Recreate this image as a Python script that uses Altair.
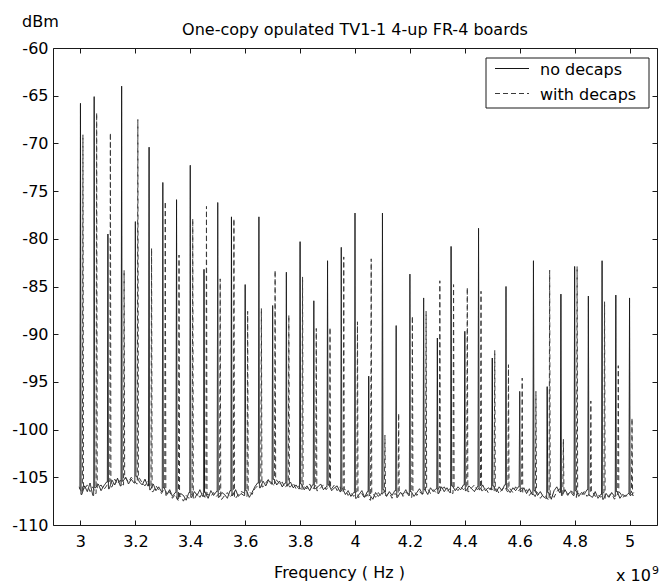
import altair as alt
import numpy as np
import pandas as pd

# ---------------- data ----------------
harmonic_ghz = [3.00, 3.05, 3.10, 3.15, 3.20, 3.25, 3.30, 3.35, 3.40, 3.45,
                3.50, 3.55, 3.60, 3.65, 3.70, 3.75, 3.80, 3.85, 3.90, 3.95,
                4.00, 4.05, 4.10, 4.15, 4.20, 4.25, 4.30, 4.35, 4.40, 4.45,
                4.50, 4.55, 4.60, 4.65, 4.70, 4.75, 4.80, 4.85, 4.90, 4.95,
                5.00]
with_decaps_ghz = [3.009, 3.059, 3.109, 3.159, 3.209, 3.259, 3.309, 3.359, 3.409, 3.459,
                   3.509, 3.559, 3.609, 3.659, 3.709, 3.759, 3.809, 3.859, 3.909, 3.959,
                   4.009, 4.059, 4.109, 4.159, 4.209, 4.259, 4.309, 4.359, 4.409, 4.459,
                   4.509, 4.559, 4.609, 4.659, 4.709, 4.759, 4.809, 4.859, 4.909, 4.959,
                   5.009]
no_decaps_peak = [-65.8, -65.1, -79.5, -64.0, -78.2, -70.4, -74.1, -75.9, -72.3, -83.2,
                  -76.2, -77.7, -84.8, -77.7, -87.0, -83.5, -80.3, -86.5, -82.3, -80.9,
                  -77.3, -94.4, -77.3, -89.1, -83.7, -86.2, -90.4, -80.8, -89.7, -78.9,
                  -92.5, -85.0, -96.0, -82.3, -95.5, -85.8, -82.9, -86.0, -82.3, -85.9,
                  -86.2]
with_decaps_peak = [-69.1, -66.8, -68.9, -83.3, -67.5, -81.0, -76.1, -81.7, -77.9, -76.6,
                    -84.2, -77.9, -87.6, -87.3, -83.3, -88.0, -84.0, -89.4, -89.3, -81.9,
                    -88.7, -82.1, -100.6, -98.3, -88.1, -87.6, -84.4, -84.8, -85.1, -85.5,
                    -91.7, -93.2, -94.6, -96.0, -83.3, -101.0, -82.9, -97.0, -86.6, -93.3,
                    -98.8]

# noise floor, sampled every 10 MHz starting at 2.995 GHz
floor_start_ghz = 2.995
floor_step_ghz = 0.01
no_decaps_floor = [
    -106.2, -106.8, -105.9, -106.5, -105.6, -106.9, -106.1, -105.7, -106.4, -105.9,
    -105.5, -106.2, -105.3, -105.8, -105.1, -105.9, -105.4, -105.0, -105.7, -105.2,
    -105.6, -104.9, -105.5, -105.8, -105.2, -105.9, -106.3, -105.7, -106.4, -106.0,
    -106.5, -106.1, -106.8, -106.3, -107.0, -106.6, -107.3, -106.7, -106.9, -107.4,
    -106.6, -107.1, -106.5, -106.9, -106.3, -107.0, -106.6, -107.2, -106.4, -106.9,
    -106.5, -107.1, -106.6, -106.8, -107.2, -106.4, -106.9, -106.3, -107.0, -106.7,
    -106.9, -106.4, -107.1, -106.6, -106.0, -105.6, -106.1, -105.4, -105.9, -105.3,
    -105.7, -105.2, -105.8, -105.4, -106.0, -105.6, -105.9, -105.5, -106.1, -105.8,
    -106.2, -105.7, -106.3, -105.9, -106.4, -105.8, -106.2, -106.0, -105.7, -106.3,
    -106.0, -105.8, -106.4, -106.1, -105.9, -106.5, -106.2, -106.8, -106.4, -107.0,
    -106.6, -107.2, -106.8, -106.4, -107.1, -106.5, -106.9, -107.3, -106.6, -107.0,
    -106.7, -106.3, -107.0, -106.5, -106.9, -106.4, -107.1, -106.6, -106.8, -106.3,
    -106.9, -106.5, -107.0, -106.6, -106.2, -106.7, -106.3, -106.8, -106.1, -106.5,
    -106.2, -106.7, -106.0, -106.5, -106.1, -106.6, -105.9, -106.4, -106.0, -106.3,
    -105.8, -106.4, -105.9, -106.2, -106.5, -106.0, -106.3, -105.8, -106.4, -106.1,
    -106.3, -105.9, -106.5, -106.0, -106.4, -105.8, -106.2, -106.6, -106.1, -106.4,
    -106.0, -106.5, -106.1, -106.7, -106.2, -106.8, -106.4, -106.9, -106.5, -107.0,
    -107.2, -106.6, -107.3, -106.4, -106.0, -106.6, -106.9, -106.3, -106.8, -106.5,
    -106.9, -106.4, -107.0, -106.6, -106.8, -106.3, -106.9, -107.1, -106.5, -107.2,
    -106.8, -107.3, -106.7, -107.1, -106.6, -107.0, -106.5, -107.2, -106.8, -107.0,
    -106.7, -106.9, -106.6]
with_decaps_floor = [
    -106.0, -106.6, -106.2, -105.8, -106.5, -106.0, -106.7, -106.1, -105.8, -106.3,
    -105.9, -105.4, -106.0, -105.2, -105.7, -105.3, -105.8, -105.1, -105.5, -105.0,
    -105.3, -105.7, -105.1, -105.6, -105.9, -105.4, -106.0, -106.5, -105.9, -106.3,
    -106.7, -106.2, -106.9, -106.5, -107.2, -106.8, -107.4, -107.0, -107.5, -106.9,
    -107.2, -106.8, -107.3, -106.7, -107.1, -106.6, -107.2, -106.8, -107.0, -106.6,
    -107.0, -106.7, -107.3, -106.9, -106.6, -107.1, -106.7, -107.2, -106.8, -106.5,
    -106.6, -107.0, -106.5, -106.8, -106.2, -105.9, -105.5, -106.0, -105.6, -105.2,
    -105.5, -105.9, -105.3, -105.7, -105.5, -106.1, -105.7, -106.0, -105.6, -106.2,
    -105.9, -106.4, -106.0, -106.2, -105.7, -106.3, -105.9, -106.4, -106.1, -105.8,
    -106.3, -105.9, -106.2, -105.8, -106.4, -106.0, -106.6, -106.3, -106.9, -106.6,
    -107.0, -106.5, -107.1, -106.7, -107.2, -106.8, -107.4, -106.7, -107.1, -106.6,
    -107.0, -106.5, -106.9, -106.6, -107.2, -106.7, -106.9, -106.4, -107.0, -106.6,
    -106.7, -107.1, -106.4, -106.9, -106.5, -106.8, -106.4, -106.2, -106.7, -106.3,
    -106.6, -106.1, -106.4, -106.0, -106.5, -106.2, -106.7, -106.1, -106.4, -106.0,
    -106.3, -106.0, -106.5, -106.1, -105.8, -106.3, -106.0, -106.4, -106.1, -106.6,
    -106.1, -106.5, -106.2, -106.7, -106.3, -106.0, -106.5, -106.2, -106.6, -106.0,
    -106.4, -106.2, -106.6, -106.3, -106.9, -106.5, -107.0, -106.6, -107.2, -106.8,
    -107.0, -107.4, -106.8, -107.1, -106.5, -106.2, -106.7, -106.5, -106.9, -106.4,
    -106.6, -107.1, -106.7, -106.9, -106.5, -107.0, -106.7, -106.5, -107.0, -106.8,
    -107.1, -106.6, -107.2, -106.9, -106.7, -107.3, -106.8, -106.6, -107.1, -106.9,
    -107.0, -106.6, -106.9]

series_names = ["no decaps", "with decaps"]
x_ticks = [3.0, 3.2, 3.4, 3.6, 3.8, 4.0, 4.2, 4.4, 4.6, 4.8, 5.0]
y_ticks = [-110, -105, -100, -95, -90, -85, -80, -75, -70, -65, -60]
title_text = "One-copy opulated TV1-1 4-up FR-4 boards"
x_title = "Frequency ( Hz )"
y_unit = "dBm"


def trace(name, spike_f, spike_v, floor_v):
    grid = [round(floor_start_ghz + floor_step_ghz * i, 4) for i in range(len(floor_v))]
    pts = list(zip(grid, floor_v))
    for f, v in zip(spike_f, spike_v):
        i = int(np.floor((f - floor_start_ghz) / floor_step_ghz + 1e-9))
        pts += [(f - 0.002, floor_v[i]), (f, v), (f + 0.002, floor_v[i + 1])]
    pts.sort(key=lambda p: p[0])
    return pd.DataFrame({"f": [p[0] for p in pts], "v": [p[1] for p in pts],
                         "idx": list(range(len(pts))), "series": name})


df = pd.concat([
    trace(series_names[0], harmonic_ghz, no_decaps_peak, no_decaps_floor),
    trace(series_names[1], with_decaps_ghz, with_decaps_peak, with_decaps_floor),
], ignore_index=True)

FONT = "DejaVu Sans"
INK = "#1a1a1a"

xs = alt.Scale(domain=[2.9, 5.1], nice=False, zero=False)
ys = alt.Scale(domain=[-110, -60], nice=False, zero=False)

common = dict(tickSize=5, offset=-5, domain=False, grid=False, tickColor=INK, tickWidth=1,
              labelFont=FONT, labelFontSize=16, labelColor="black")

bottom_axis = alt.Axis(orient="bottom", values=x_ticks, labelExpr="'' + datum.value",
                       labelPadding=8,
                       title=x_title, titleFont=FONT, titleFontSize=16,
                       titleFontWeight="normal", titleColor="black",
                       titleBaseline="alphabetic", titleY=57, titleX=286,
                       titleAnchor="start", titleAlign="center", **common)
left_axis = alt.Axis(orient="left", values=y_ticks, labelExpr="'' + datum.value",
                     labelPadding=5, title=None, **common)
top_axis = alt.Axis(orient="top", values=x_ticks, labels=False, title=None, **common)
right_axis = alt.Axis(orient="right", values=y_ticks, labels=False, title=None, **common)

lines = alt.Chart(df).mark_line(strokeWidth=1).encode(
    x=alt.X("f:Q", scale=xs, axis=bottom_axis),
    y=alt.Y("v:Q", scale=ys, axis=left_axis),
    strokeDash=alt.StrokeDash("series:N",
                              scale=alt.Scale(domain=series_names, range=[[1, 0], [5, 3]]),
                              legend=None),
    color=alt.Color("series:N",
                    scale=alt.Scale(domain=series_names, range=["#151515", "#3a3a3a"]),
                    legend=None),
    order="idx:Q",
)

mirror = alt.Chart(df.iloc[:2]).mark_point(opacity=0).encode(
    x=alt.X("f:Q", scale=xs, axis=top_axis),
    y=alt.Y("v:Q", scale=ys, axis=right_axis),
)

one = pd.DataFrame({"k": [0]})


def label(text, x, y, size=16, align="left"):
    return alt.Chart(one).mark_text(align=align, baseline="alphabetic", font=FONT,
                                    fontSize=size, color="black").encode(
        x=alt.value(x), y=alt.value(y), text=alt.value(text))


legend_box = alt.Chart(one).mark_rect(fill="white", stroke=INK, strokeWidth=1).encode(
    x=alt.value(433), x2=alt.value(596), y=alt.value(10), y2=alt.value(60))
legend_solid = alt.Chart(one).mark_rule(color="#151515", strokeWidth=1).encode(
    x=alt.value(442), x2=alt.value(476), y=alt.value(20.5))
legend_dashed = alt.Chart(one).mark_rule(color="#3a3a3a", strokeWidth=1,
                                         strokeDash=[5, 3]).encode(
    x=alt.value(442), x2=alt.value(476), y=alt.value(45.5))

chart = alt.layer(
    lines, mirror, legend_box, legend_solid, legend_dashed,
    label(series_names[0], 487, 27),
    label(series_names[1], 487, 52),
    label(title_text, 302, -13, align="center"),
    label(y_unit, -31, -21),
    label("x 10", 563, 533),
    label("9", 599, 526, size=11),
).resolve_scale(x="shared", y="shared").resolve_axis(
    x="independent", y="independent"
).properties(
    width=604, height=477,
    background="white",
    autosize=alt.AutoSizeParams(type="none"),
    padding={"left": 53, "top": 48, "right": 9, "bottom": 59},
).configure_view(
    stroke=INK, strokeWidth=1
)

chart.save("out.html", embed_options={"renderer": "svg", "actions": False})
